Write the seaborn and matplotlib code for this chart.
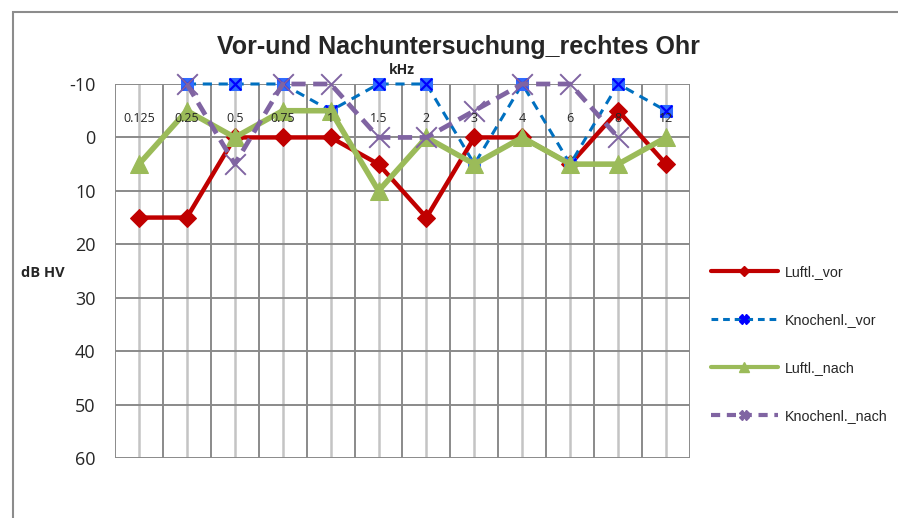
import numpy as np
import pandas as pd
import matplotlib
matplotlib.use("Agg")
import matplotlib.pyplot as plt
from matplotlib.lines import Line2D
from matplotlib.patches import Rectangle
import seaborn as sns

# Frequencies (kHz) and hearing levels (dB HV)
freqs = ["0.125", "0.25", "0.5", "0.75", "1", "1.5", "2", "3", "4", "6", "8", "12"]
luft_vor = [15, 15, 0, 0, 0, 5, 15, 0, 0, 5, -5, 5]
knochen_vor = [np.nan, -10, -10, -10, -5, -10, -10, 5, -10, 5, -10, -5]
luft_nach = [5, -5, 0, -5, -5, 10, 0, 5, 0, 5, 5, 0]
knochen_nach = [np.nan, -10, 5, -10, -10, 0, 0, -5, -10, -10, 0, np.nan]
y_ticks = [-10, 0, 10, 20, 30, 40, 50, 60]

series_names = ["Luftl._vor", "Knochenl._vor", "Luftl._nach", "Knochenl._nach"]

sns.set_style("white")
plt.rcParams["font.family"] = ["Liberation Sans", "DejaVu Sans"]
label_font = ["Open Sans", "DejaVu Sans"]

pos = np.arange(len(freqs))
df = pd.DataFrame({
    "pos": pos,
    "Luftl._vor": luft_vor,
    "Knochenl._vor": knochen_vor,
    "Luftl._nach": luft_nach,
    "Knochenl._nach": knochen_nach,
})

fig = plt.figure(figsize=(8.98, 5.18), dpi=100)
ax = fig.add_axes([115 / 898, 1 - 458 / 518, 575 / 898, 374 / 518])

# outer chart frame
fig.patches.append(Rectangle((13 / 898, -0.1), 1.2, 1 - 12 / 518 + 0.1,
                             transform=fig.transFigure, fill=False,
                             edgecolor="#8c8c8c", linewidth=1.5, zorder=0))

red = "#C00000"
blue_line = "#0070C0"
blue_mark = "#0000FF"
green = "#9BBB59"
purple = "#8064A2"

# grid: dark lines between categories, light lines through category centres
for b in np.arange(-0.5, len(freqs), 1.0):
    ax.axvline(b, color="#8a8a8a", lw=1.4, zorder=1)
for c in pos:
    ax.axvline(c, color="#c4c4c4", lw=1.8, zorder=1)
for yv in y_ticks:
    ax.axhline(yv, color="#8a8a8a", lw=1.4, zorder=1)

n_grid = len(ax.lines)

d = df.dropna(subset=["Luftl._vor"])
sns.lineplot(data=d, x="pos", y="Luftl._vor", ax=ax, color=red, lw=3.2,
             marker="D", markersize=9, markeredgecolor=red, sort=False,
             legend=False, zorder=3)

d = df.dropna(subset=["Knochenl._vor"])
sns.lineplot(data=d, x="pos", y="Knochenl._vor", ax=ax, color=blue_line, lw=2.2,
             linestyle=(0, (3, 2.2)), marker="s", markersize=8,
             markerfacecolor="#2f6bff", markeredgecolor="#2f6bff",
             sort=False, legend=False, zorder=4)
sns.scatterplot(data=d, x="pos", y="Knochenl._vor", ax=ax, marker="x",
                color=blue_mark, s=70, linewidth=1.6, legend=False, zorder=4.1)

d = df.dropna(subset=["Luftl._nach"])
sns.lineplot(data=d, x="pos", y="Luftl._nach", ax=ax, color=green, lw=4.0,
             marker="^", markersize=13, markeredgecolor=green, sort=False,
             legend=False, zorder=5)

d = df.dropna(subset=["Knochenl._nach"])
sns.lineplot(data=d, x="pos", y="Knochenl._nach", ax=ax, color=purple, lw=3.4,
             linestyle=(0, (3, 1.6)), sort=False, legend=False, zorder=6)
sns.scatterplot(data=d, x="pos", y="Knochenl._nach", ax=ax, marker="x",
                color=purple, s=220, linewidth=1.4, legend=False, zorder=6.1)

# let markers at the top row extend past the plot edge
for ln in ax.lines[n_grid:]:
    ln.set_clip_on(False)
for coll in ax.collections:
    coll.set_clip_on(False)

ax.set_xlim(-0.5, len(freqs) - 0.5)
ax.set_ylim(60, -10)
ax.set_yticks(y_ticks)
ax.set_yticklabels([str(v) for v in y_ticks], fontsize=13, family=label_font)
ax.tick_params(axis="y", length=0, pad=14)
ax.set_xticks([])
ax.set_xlabel("")
ax.set_ylabel("")
for s in ax.spines.values():
    s.set_visible(False)

# frequency labels sit inside the plot just below the top
for p, lab in zip(pos, freqs):
    ax.text(p, -3.6, lab, ha="center", va="center", fontsize=9,
            family=label_font, zorder=7)

fig.text(402 / 898, 1 - 70 / 518, "kHz", ha="center", va="center",
         fontsize=10, fontweight="bold", family=label_font)
fig.text(43 / 898, 1 - 273 / 518, "dB HV", ha="center", va="center",
         fontsize=10.5, fontweight="bold", family=label_font)
fig.text(458 / 898, 1 - 47 / 518, "Vor-und Nachuntersuchung_rechtes Ohr",
         ha="center", va="center", fontsize=18, fontweight="bold")

handles = [
    Line2D([], [], color=red, lw=3, marker="D", markersize=5),
    Line2D([], [], color=blue_line, lw=2.2, linestyle=(0, (2.2, 1.6)),
           marker="X", markersize=7, markerfacecolor=blue_mark,
           markeredgecolor=blue_mark),
    Line2D([], [], color=green, lw=3, marker="^", markersize=7),
    Line2D([], [], color=purple, lw=3, linestyle=(0, (2.2, 1.6)),
           marker="X", markersize=7),
]
fig.legend(handles, series_names, loc="upper left",
           bbox_to_anchor=(705 / 898, 1 - 259 / 518), frameon=False,
           fontsize=10.3, handlelength=4.7, handletextpad=0.5,
           labelspacing=2.38, borderaxespad=0)

fig.savefig("out.png", dpi=100)
